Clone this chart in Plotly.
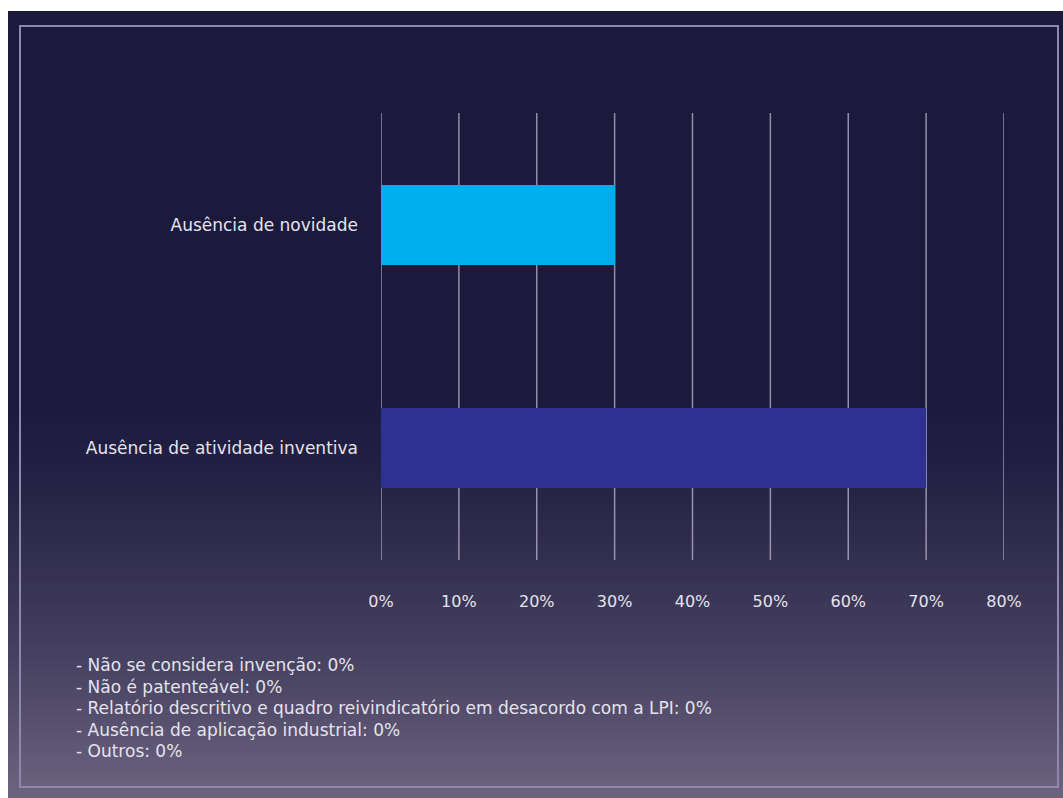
import plotly.graph_objects as go

# Data
categories = ["Ausência de atividade inventiva", "Ausência de novidade"]
values = [70, 30]
bar_colors = ["#2e3192", "#00aeef"]
tick_values = [0, 10, 20, 30, 40, 50, 60, 70, 80]
tick_labels = ["0%", "10%", "20%", "30%", "40%", "50%", "60%", "70%", "80%"]
notes = [
    "- Não se considera invenção: 0%",
    "- Não é patenteável: 0%",
    "- Relatório descritivo e quadro reivindicatório em desacordo com a LPI: 0%",
    "- Ausência de aplicação industrial: 0%",
    "- Outros: 0%",
]

W, H = 1063, 798
L, R, T, B = 381, 59, 113, 238
PW, PH = W - L - R, H - T - B


def px_x(px):
    return (px - L) / PW


def px_y(py):
    return (H - B - py) / PH


def hex_rgb(h):
    h = h.lstrip("#")
    return tuple(int(h[i:i + 2], 16) for i in (0, 2, 4))


def lerp_color(stops, py):
    for (y0, c0), (y1, c1) in zip(stops, stops[1:]):
        if y0 <= py <= y1:
            t = 0 if y1 == y0 else (py - y0) / (y1 - y0)
            a, b = hex_rgb(c0), hex_rgb(c1)
            return "rgb(%d,%d,%d)" % tuple(round(a[i] + (b[i] - a[i]) * t) for i in range(3))
    return stops[-1][1]


grad_stops = [
    (11, "#1b1a3c"),
    (400, "#1b1a3c"),
    (470, "#222143"),
    (560, "#332f4f"),
    (650, "#454060"),
    (720, "#564f6d"),
    (787, "#6b6280"),
    (798, "#6b6280"),
]

shapes = []
# solid dark top part of the background
shapes.append(dict(type="rect", xref="paper", yref="paper", layer="below",
                   x0=px_x(8), x1=px_x(W), y0=px_y(11), y1=px_y(400),
                   fillcolor=grad_stops[0][1], line_width=0))
# vertical gradient in thin bands
step = 3
for py in range(400, H, step):
    shapes.append(dict(type="rect", xref="paper", yref="paper", layer="below",
                       x0=px_x(8), x1=px_x(W), y0=px_y(py + step + 0.5), y1=px_y(py),
                       fillcolor=lerp_color(grad_stops, py + step / 2), line_width=0))
# inner frame
shapes.append(dict(type="rect", xref="paper", yref="paper", layer="below",
                   x0=px_x(20), x1=px_x(1058), y0=px_y(787), y1=px_y(26),
                   fillcolor="rgba(0,0,0,0)", line=dict(color="#8d89ad", width=2)))
# vertical gridlines at every tick, including both ends of the axis
for v in tick_values:
    shapes.append(dict(type="line", xref="x", yref="paper", layer="below",
                       x0=v, x1=v, y0=0, y1=1,
                       line=dict(color="rgba(185,181,210,0.75)", width=1.5)))

fig = go.Figure(go.Bar(
    x=values,
    y=categories,
    orientation="h",
    marker=dict(color=bar_colors, line_width=0),
    width=0.36,
    hoverinfo="skip",
))

annotations = []
note_y = [665, 686.5, 708, 729.5, 751]
for text, py in zip(notes, note_y):
    annotations.append(dict(
        text=text, xref="paper", yref="paper", x=px_x(74), y=px_y(py),
        xanchor="left", yanchor="middle", showarrow=False,
        font=dict(family="DejaVu Sans", size=17, color="#e4e3ec"),
    ))

fig.update_layout(
    width=W, height=H,
    margin=dict(l=L, r=R, t=T, b=B, pad=0),
    paper_bgcolor="white",
    plot_bgcolor="rgba(0,0,0,0)",
    showlegend=False,
    bargap=0,
    shapes=shapes,
    annotations=annotations,
    font=dict(family="DejaVu Sans", color="#e4e3ec"),
    xaxis=dict(
        range=[0, 80],
        tickvals=tick_values,
        ticktext=tick_labels,
        showgrid=False,
        zeroline=False,
        showline=False,
        ticks="",
        ticklabelstandoff=30,
        tickfont=dict(family="DejaVu Sans", size=16, color="#e4e3ec"),
        fixedrange=True,
    ),
    yaxis=dict(
        categoryorder="array",
        categoryarray=categories,
        range=[-0.5, 1.5],
        showgrid=False,
        zeroline=False,
        showline=False,
        ticks="",
        ticklabelstandoff=22,
        tickfont=dict(family="DejaVu Sans", size=17, color="#e4e3ec"),
        fixedrange=True,
    ),
)

fig.write_html("out.html")
